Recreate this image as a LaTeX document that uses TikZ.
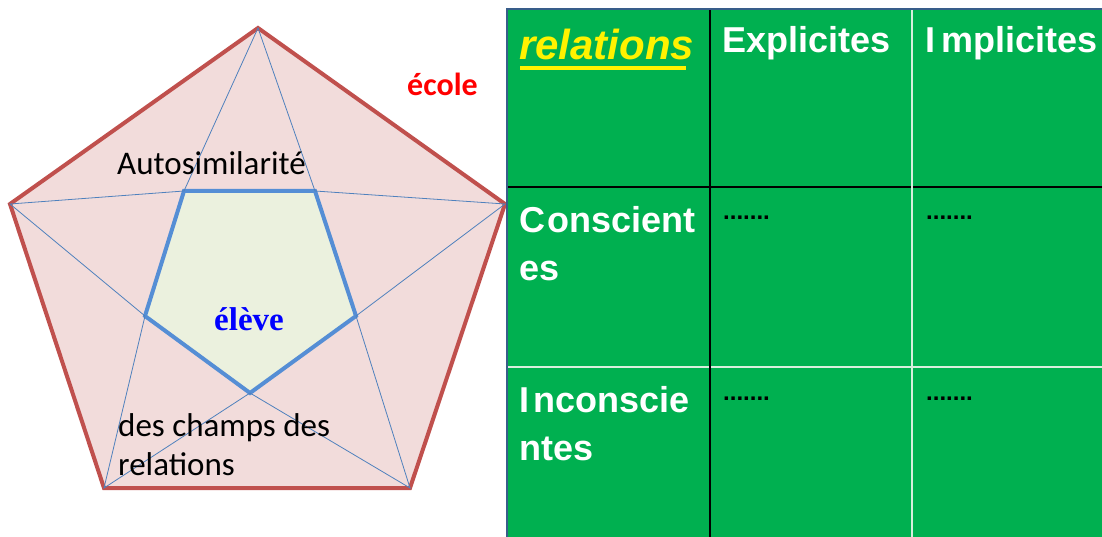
\documentclass[tikz,border=0pt]{standalone}
\usepackage{fontspec}
\setmainfont{Carlito}
\newfontfamily\arialf{Liberation Sans}
\newfontfamily\timesf{Liberation Serif}
\usetikzlibrary{calc}

\definecolor{pentred}{HTML}{C0504D}
\definecolor{pentpink}{HTML}{F2DCDB}
\definecolor{innerfill}{HTML}{EBF1DE}
\definecolor{innerblue}{HTML}{558ED5}
\definecolor{starblue}{HTML}{4F81BD}
\definecolor{tabgreen}{HTML}{00B050}
\definecolor{tabline}{HTML}{D8EEDD}
\definecolor{tabframe}{HTML}{385D8A}

\begin{document}
\begin{tikzpicture}[
    x=1pt, y=-1pt,
    outer/.style={draw=pentred, fill=pentpink, line width=4pt},
    inner/.style={draw=innerblue, fill=innerfill, line width=4pt},
    star/.style={draw=starblue, line width=0.8pt},
    label/.style={inner sep=0pt, anchor=base west, align=left,
        font=\fontsize{33}{39}\selectfont},
    head/.style={inner sep=0pt, anchor=base west, align=left, text=white,
        font=\arialf\bfseries\fontsize{36}{48}\selectfont},
    dots/.style={inner sep=0pt, anchor=base west,
        font=\arialf\bfseries\fontsize{24}{28}\selectfont},
    dark/.style={draw=black, line width=1.2pt},
    light/.style={draw=tabline, line width=1.5pt}
]
\useasboundingbox (0,0) rectangle (1102,537);

% --- Outer pentagon (school) ---
\coordinate (otop)  at (258,28);
\coordinate (oright) at (505,204);
\coordinate (obr)   at (410,488);
\coordinate (obl)   at (104,488);
\coordinate (oleft) at (10,204);
\path[outer] (otop) -- (oright) -- (obr) -- (obl) -- (oleft) -- cycle;

% --- Inner pentagon (pupil) ---
\coordinate (itl) at (184,191);
\coordinate (itr) at (315,191);
\coordinate (ir)  at (356,316);
\coordinate (ib)  at (250,393);
\coordinate (il)  at (145,316);
\path[inner] (itl) -- (itr) -- (ir) -- (ib) -- (il) -- cycle;

% --- Star lines ---
\draw[star] (itl) -- (otop) -- (itr) -- (oright) -- (ir) -- (obr)
    -- (ib) -- (obl) -- (il) -- (oleft) -- cycle;

% --- Labels ---
\node[label] (ecole) at (407,96)
    {\color{red}\bfseries\fontsize{32}{38}\selectfont école};
\node[label] (auto) at (117,175) {Autosimilarité};
\node[label, text=blue, font=\timesf\bfseries\fontsize{33}{38}\selectfont]
    (eleve) at (214,330) {élève};
\node[label] (champs) at (118,475) {des champs des\\relations};

% --- Table ---
\fill[tabgreen] (507,9) rectangle (1102,537);
\draw[dark]  (507,187) -- (1102,187);
\draw[light] (507,367) -- (1102,367);
\draw[dark]  (710,9) -- (710,537);
\draw[light] (912,9) -- (912,537);
\draw[tabframe, line width=1.5pt] (507,537) -- (507,9) -- (1102,9);

\node[head, text=yellow, font=\arialf\bfseries\itshape\fontsize{42}{48}\selectfont]
    (rel) at (519,60) {relations};
\draw[yellow, line width=4pt] ($(rel.base west)+(1,8)$) -- ($(rel.base east)+(-8,8)$);
\node[head] (expl) at (722,53) {Explicites};
\node[head] (impl) at (925,53) {I\kern6pt mplicites};
\node[head] (consc) at (519,280) {C\kern2pt onscient\\es};
\node[head] (incon) at (519,460) {I\kern4pt nconscie\\ntes};

\node[dots] (d1) at (723,220) {.......};
\node[dots] (d2) at (926,220) {.......};
\node[dots] (d3) at (723,400) {.......};
\node[dots] (d4) at (926,400) {.......};

\end{tikzpicture}
\end{document}
